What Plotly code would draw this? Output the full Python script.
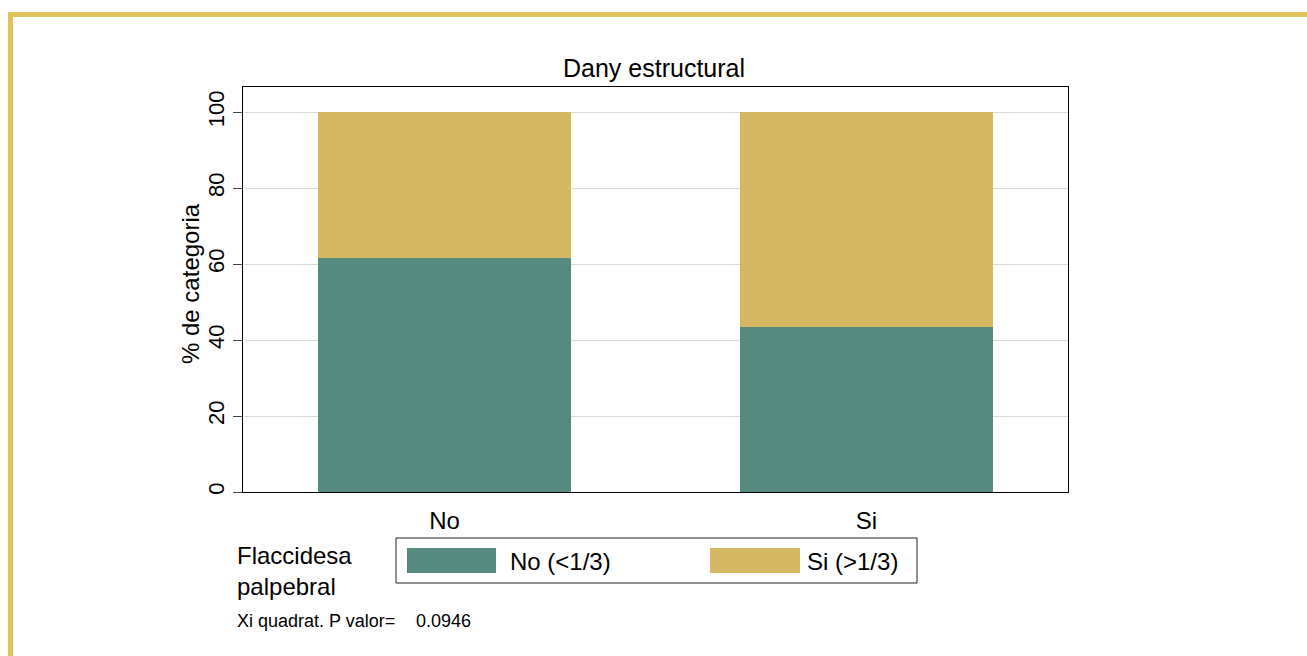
import plotly.graph_objects as go

# Categories and percentages (stacked to 100 within each category)
categories = ["No", "Si"]
pct_no = [61.5, 43.3]      # Flaccidesa palpebral: No (<1/3)
pct_si = [38.5, 56.7]      # Flaccidesa palpebral: Si (>1/3)
series_names = ["No (<1/3)", "Si (>1/3)"]
y_ticks = [0, 20, 40, 60, 80, 100]
p_value = "0.0946"

GREEN = "#568a7e"
GOLD = "#d4b862"
FRAME_GOLD = "#e0c25f"
FONT = "Liberation Sans, Arial, sans-serif"

W, H = 1307, 656
L, R, T, B = 243, 239, 87, 164


def px_x(px):
    return (px - L) / (W - L - R)


def px_y(py):
    return (H - B - py) / (H - T - B)


fig = go.Figure()
fig.add_trace(go.Bar(x=categories, y=pct_no, name=series_names[0],
                     marker=dict(color=GREEN, line=dict(width=0)), width=0.6))
fig.add_trace(go.Bar(x=categories, y=pct_si, name=series_names[1],
                     marker=dict(color=GOLD, line=dict(width=0)), width=0.6))

shapes = [
    # outer gold frame
    dict(type="rect", xref="paper", yref="paper",
         x0=px_x(10.5), x1=px_x(1400), y0=px_y(800), y1=px_y(14.5),
         line=dict(color=FRAME_GOLD, width=5), fillcolor="rgba(0,0,0,0)", layer="below"),
    # legend box
    dict(type="rect", xref="paper", yref="paper",
         x0=px_x(396), x1=px_x(917), y0=px_y(583), y1=px_y(538),
         line=dict(color="#222222", width=1), fillcolor="white"),
    dict(type="rect", xref="paper", yref="paper",
         x0=px_x(407), x1=px_x(496), y0=px_y(573), y1=px_y(548),
         line=dict(width=0), fillcolor=GREEN),
    dict(type="rect", xref="paper", yref="paper",
         x0=px_x(710), x1=px_x(800), y0=px_y(573), y1=px_y(548),
         line=dict(width=0), fillcolor=GOLD),
]

ann_font = dict(family=FONT, color="black")
annotations = [
    dict(text="Dany estructural", x=px_x(654), y=px_y(68), xref="paper", yref="paper",
         xanchor="center", yanchor="middle", showarrow=False, font=dict(size=25, **ann_font)),
    dict(text="% de categoria", x=px_x(190), y=px_y(284), xref="paper", yref="paper",
         xanchor="center", yanchor="middle", textangle=-90, showarrow=False,
         font=dict(size=24, **ann_font)),
    dict(text="Flaccidesa<br>palpebral", x=px_x(235), y=px_y(571), xref="paper", yref="paper",
         xanchor="left", yanchor="middle", align="left", showarrow=False,
         font=dict(size=24, **ann_font)),
    dict(text=series_names[0], x=px_x(508), y=px_y(561), xref="paper", yref="paper",
         xanchor="left", yanchor="middle", showarrow=False, font=dict(size=24, **ann_font)),
    dict(text=series_names[1], x=px_x(805), y=px_y(561), xref="paper", yref="paper",
         xanchor="left", yanchor="middle", showarrow=False, font=dict(size=24, **ann_font)),
    dict(text="Xi quadrat. P valor=", x=px_x(235), y=px_y(621), xref="paper", yref="paper",
         xanchor="left", yanchor="middle", showarrow=False, font=dict(size=18, **ann_font)),
    dict(text=p_value, x=px_x(414), y=px_y(621), xref="paper", yref="paper",
         xanchor="left", yanchor="middle", showarrow=False, font=dict(size=18, **ann_font)),
]

fig.update_layout(
    width=W, height=H,
    margin=dict(l=L, r=R, t=T, b=B, autoexpand=False),
    barmode="stack", bargap=0.4,
    paper_bgcolor="white", plot_bgcolor="white",
    showlegend=False,
    font=dict(family=FONT, color="black"),
    shapes=shapes, annotations=annotations,
)
fig.update_xaxes(
    range=[-0.478, 1.478], showgrid=False, showline=True, linecolor="black", linewidth=1,
    mirror=True, ticks="", tickfont=dict(size=24), ticklabelstandoff=7,
)
fig.update_yaxes(
    range=[0, 106.6], tickvals=y_ticks, showgrid=True, gridcolor="#d9d9d9", gridwidth=1,
    showline=True, linecolor="black", linewidth=1, mirror=True, zeroline=False,
    ticks="outside", ticklen=9, tickcolor="#444444", tickangle=-90, tickfont=dict(size=22),
)

fig.write_html("out.html")
